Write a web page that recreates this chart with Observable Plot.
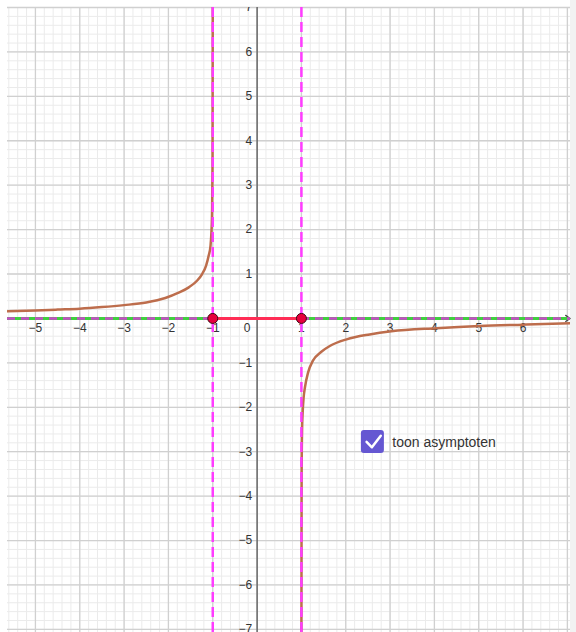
<!DOCTYPE html>
<html>
<head>
<meta charset="utf-8">
<script src="https://cdn.jsdelivr.net/npm/d3@7"></script>
<script src="https://cdn.jsdelivr.net/npm/@observablehq/plot@0.6"></script>
<style>
  html, body { margin: 0; padding: 0; background: #fff; }
  #chart svg { display: block; }
</style>
</head>
<body>
<div id="chart"></div>
<script>
// Tick labels
const xTicks = [-5, -4, -3, -2, -1, 1, 2, 3, 4, 5, 6];
const yTicks = [-7, -6, -5, -4, -3, -2, -1, 1, 2, 3, 4, 5, 6, 7];

// Left branch (x < -1)
const leftX = [-5.63, -5, -4.5, -4, -3.5, -3, -2.5, -2.07, -1.77, -1.54, -1.35, -1.24, -1.15, -1.09, -1.05, -1.03, -1.015, -1.005, -1.0];
const leftY = [0.16, 0.18, 0.2, 0.22, 0.255, 0.30, 0.36, 0.46, 0.58, 0.70, 0.855, 1.0, 1.19, 1.42, 1.64, 1.94, 2.4, 3.5, 7.2];

// Right branch (x > 1)
const rightX = [1.0, 1.005, 1.015, 1.03, 1.05, 1.08, 1.15, 1.26, 1.45, 1.64, 2.02, 2.54, 3.03, 4.04, 5.02, 6, 7.07];
const rightY = [-7.2, -3.5, -2.5, -2.08, -1.78, -1.55, -1.22, -0.95, -0.75, -0.62, -0.47, -0.36, -0.29, -0.22, -0.17, -0.14, -0.11];

// Asymptotes and segment
const verticalAsymptotes = [-1, 1];
const horizontalAsymptote = [0];
const segmentEnds = [-1, 1];
const checkboxLabel = "toon asymptoten";

const left = leftX.map((x, i) => ({x, y: leftY[i]}));
const right = rightX.map((x, i) => ({x, y: rightY[i]}));

const minorX = d3.range(-28, 36).map(i => i / 5);
const minorY = d3.range(-35, 36).map(i => i / 5);
const majorX = d3.range(-5, 8);
const majorY = d3.range(-7, 8);
const fmt = d3.format("d");

const font = "'Liberation Sans', Arial, sans-serif";

const chart = Plot.plot({
  width: 576,
  height: 632,
  marginLeft: 7,
  marginRight: 6,
  marginTop: 7,
  marginBottom: 0,
  x: {domain: [-5.63, 7.07], axis: null},
  y: {domain: [-7.07, 7.0], axis: null},
  style: {
    fontFamily: font,
    background: "linear-gradient(to right, #ffffff 570px, #f2f2f2 570px)"
  },
  marks: [
    // grid
    Plot.ruleX(minorX, {stroke: "#ebebeb", strokeWidth: 1}),
    Plot.ruleY(minorY, {stroke: "#ebebeb", strokeWidth: 1}),
    Plot.ruleX(majorX, {stroke: "#d0d0d0", strokeWidth: 1.3}),
    Plot.ruleY(majorY, {stroke: "#d0d0d0", strokeWidth: 1.3}),
    // axes
    Plot.ruleX([0], {stroke: "#333", strokeWidth: 1}),
    Plot.ruleY([0], {stroke: "#333", strokeWidth: 1}),
    Plot.arrow([{x1: 6.7, x2: 7.06, y1: 0, y2: 0}], {
      x1: "x1", x2: "x2", y1: "y1", y2: "y2",
      stroke: "#444", strokeWidth: 1.3, headLength: 9, headAngle: 70
    }),
    // tick labels
    Plot.text(xTicks, {
      x: d => d, y: 0, text: d => fmt(d), dy: 10,
      fontSize: 12, fill: "#333", clip: true
    }),
    Plot.text(yTicks, {
      x: 0, y: d => d, text: d => fmt(d), dx: -5, textAnchor: "end",
      fontSize: 12, fill: "#333", clip: true
    }),
    Plot.text(["0"], {x: 0, y: 0, text: d => d, dx: -10, dy: 10, fontSize: 12, fill: "#333"}),
    // function
    Plot.line(left, {x: "x", y: "y", stroke: "#bd6d4c", strokeWidth: 2.5, curve: "monotone-x", clip: true}),
    Plot.line(right, {x: "x", y: "y", stroke: "#bd6d4c", strokeWidth: 2.5, curve: "monotone-x", clip: true}),
    // horizontal asymptote
    Plot.ruleY(horizontalAsymptote, {stroke: "#3fcf3f", strokeWidth: 3}),
    Plot.ruleY(horizontalAsymptote, {stroke: "#c84ac8", strokeWidth: 2.5, strokeDasharray: "8,6"}),
    // vertical asymptotes
    Plot.ruleX(verticalAsymptotes, {stroke: "#ff3cff", strokeWidth: 2.5, strokeDasharray: "10,5"}),
    // red segment
    Plot.ruleY([0], {x1: segmentEnds[0], x2: segmentEnds[1], stroke: "#ff2d55", strokeWidth: 3}),
    Plot.dot(segmentEnds, {x: d => d, y: 0, r: 5, fill: "#e6003d", stroke: "#3a0a10", strokeWidth: 1}),
    // checkbox
    Plot.rect([{x1: 2.353, x2: 2.872, y1: -2.52, y2: -3.04}], {
      x1: "x1", x2: "x2", y1: "y1", y2: "y2", fill: "#6557d2", rx: 3
    }),
    Plot.line([[2.47, -2.78], [2.59, -2.90], [2.79, -2.64]], {
      stroke: "white", strokeWidth: 2.5, strokeLinecap: "round", strokeLinejoin: "round"
    }),
    Plot.text([checkboxLabel], {
      x: 3.05, y: -2.8, text: d => d, textAnchor: "start",
      fontSize: 14, fill: "#333"
    })
  ]
});

document.getElementById("chart").append(chart);
</script>
</body>
</html>
